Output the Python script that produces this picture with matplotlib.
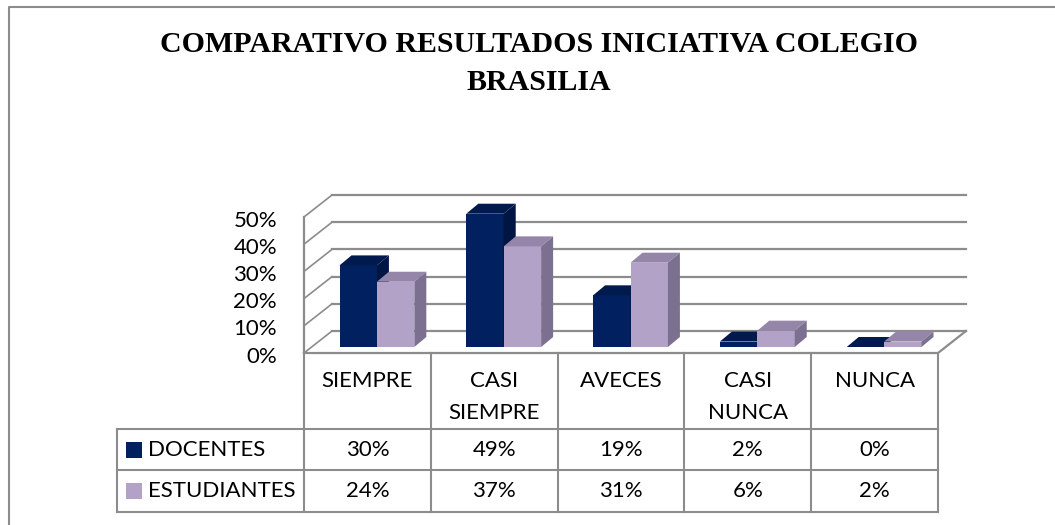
import numpy as np
import matplotlib.pyplot as plt
from matplotlib.patches import Polygon, Rectangle

# data
categorias = ['SIEMPRE', 'CASI\nSIEMPRE', 'AVECES', 'CASI\nNUNCA', 'NUNCA']
series = ['DOCENTES', 'ESTUDIANTES']
docentes = [30, 49, 19, 2, 0]
estudiantes = [24, 37, 31, 6, 2]
ticks = [0, 10, 20, 30, 40, 50]

W, H = 1055, 525
fig = plt.figure(figsize=(W / 100, H / 100), dpi=100)

# colours (front, top, side)
col_doc = ('#002060', '#001a4e', '#001542')
col_est = ('#b3a2c7', '#9586a9', '#7c7091')
gris = '#8c8c8c'
txtfont = 'Lato'
fs = 16

# pixel geometry of the plot floor
X0 = 304      # left edge of front floor (px)
CW = 126.8    # px per category
Y0 = 353      # front 0% (px from top)
PY = 2.72     # px per 1%
XMAX, YMAX = 4.85, 60

ax = fig.add_axes([X0 / W, (H - Y0) / H, (XMAX + 0.5) * CW / W, YMAX * PY / H])
ax.set_xlim(-0.5, XMAX)
ax.set_ylim(0, YMAX)
ax.axis('off')

# back wall offset (oblique projection)
DX, DY = 28 / CW, 22 / PY
n = len(categorias)
for t in ticks:
    ax.plot([-0.5 + DX, n - 0.5 + DX], [t + DY, t + DY], color=gris, lw=1.6, clip_on=False, zorder=1)
    ax.plot([-0.5, -0.5 + DX], [t, t + DY], color=gris, lw=1.2, clip_on=False, zorder=1)
ax.plot([-0.5, -0.5], [0, ticks[-1]], color=gris, lw=1.6, clip_on=False, zorder=1)
ax.plot([-0.5, n - 0.5, n - 0.5 + DX], [0, 0, DY], color=gris, lw=1.6, clip_on=False, zorder=1)

for t in ticks:
    ax.text(-0.5 - 27 / CW, t - 1.3, f'{t}%', ha='right', va='center',
            fontsize=fs, family=txtfont)

# 3D-looking bars
bw = 0.295
shift = 0.075
base = 6 / PY
bdx, bdy = 12 / CW, 10 / PY
x = np.arange(n)
z = 3
for i in range(n):
    for vals, cols, xl in ((docentes, col_doc, x[i] + shift - bw), (estudiantes, col_est, x[i] + shift)):
        v = vals[i]
        ax.bar(xl, v, width=bw, bottom=base, align='edge', color=cols[0], lw=0, zorder=z)
        top = [(xl, base + v), (xl + bw, base + v), (xl + bw + bdx, base + v + bdy), (xl + bdx, base + v + bdy)]
        side = [(xl + bw, base), (xl + bw + bdx, base + bdy), (xl + bw + bdx, base + v + bdy), (xl + bw, base + v)]
        ax.add_patch(Polygon(top, closed=True, color=cols[1], lw=0, zorder=z, clip_on=False))
        ax.add_patch(Polygon(side, closed=True, color=cols[2], lw=0, zorder=z, clip_on=False))
        z += 1

# overlay in pixel units: frame, title, data table
ov = fig.add_axes([0, 0, 1, 1], zorder=-1)
ov.set_xlim(0, W)
ov.set_ylim(H, 0)
ov.axis('off')

ov.plot([9, 9, W], [H, 7, 7], color=gris, lw=1.5)

fig.text(539 / W, 1 - 45 / H, 'COMPARATIVO RESULTADOS INICIATIVA COLEGIO', ha='center', va='center',
         family='Liberation Serif', weight='bold', fontsize=21.5)
fig.text(539 / W, 1 - 82.5 / H, 'BRASILIA', ha='center', va='center',
         family='Liberation Serif', weight='bold', fontsize=21.5)

cols_x = X0 + CW * np.arange(n + 1)
row_y = [429, 470, 512]
left = 117
for cx in cols_x:
    ov.plot([cx, cx], [Y0, row_y[-1]], color=gris, lw=1.5)
for ry in row_y:
    ov.plot([left, cols_x[-1]], [ry, ry], color=gris, lw=1.5)
ov.plot([left, left], [row_y[0], row_y[-1]], color=gris, lw=1.5)

for i, c in enumerate(categorias):
    cx = (cols_x[i] + cols_x[i + 1]) / 2
    for j, line in enumerate(c.split('\n')):
        ov.text(cx, 381 + 32 * j, line, ha='center', va='center', fontsize=fs, family=txtfont)

for r, (name, vals, cols) in enumerate(((series[0], docentes, col_doc), (series[1], estudiantes, col_est))):
    cy = (row_y[r] + row_y[r + 1]) / 2
    ov.add_patch(Rectangle((126, cy - 8), 16, 16, color=cols[0], lw=0))
    ov.text(148, cy, name, ha='left', va='center', fontsize=fs, family=txtfont)
    for i, v in enumerate(vals):
        cx = (cols_x[i] + cols_x[i + 1]) / 2
        ov.text(cx, cy, f'{v}%', ha='center', va='center', fontsize=fs, family=txtfont)

fig.savefig('out.png', dpi=100, facecolor='white')
